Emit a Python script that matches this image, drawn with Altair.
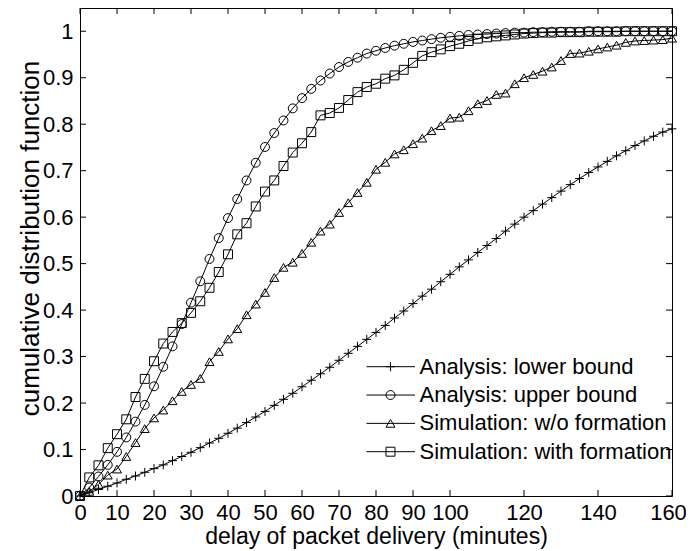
import altair as alt
import pandas as pd

# ---------------- data ----------------
X = [i * 2.5 for i in range(65)]  # 0, 2.5, ..., 160 minutes

SERIES = [
    "Analysis: lower bound",
    "Analysis: upper bound",
    "Simulation: w/o formation",
    "Simulation: with formation",
]

lower = [0, 0.007, 0.014, 0.021, 0.028, 0.036, 0.043, 0.051, 0.059, 0.067,
         0.076, 0.085, 0.094, 0.104, 0.114, 0.124, 0.135, 0.146, 0.158, 0.170,
         0.182, 0.195, 0.208, 0.221, 0.235, 0.249, 0.263, 0.277, 0.292, 0.307,
         0.322, 0.337, 0.352, 0.367, 0.383, 0.398, 0.414, 0.430, 0.445, 0.461,
         0.477, 0.493, 0.508, 0.524, 0.539, 0.554, 0.570, 0.585, 0.600, 0.614,
         0.628, 0.642, 0.656, 0.670, 0.683, 0.696, 0.708, 0.720, 0.732, 0.743,
         0.754, 0.764, 0.774, 0.783, 0.790]

upper = [0, 0.018, 0.042, 0.067, 0.095, 0.126, 0.160, 0.196, 0.236, 0.278,
         0.322, 0.370, 0.416, 0.462, 0.510, 0.555, 0.598, 0.639, 0.679, 0.717,
         0.751, 0.781, 0.808, 0.834, 0.856, 0.876, 0.894, 0.909, 0.923, 0.934,
         0.943, 0.952, 0.958, 0.964, 0.969, 0.973, 0.977, 0.980, 0.983, 0.986,
         0.988, 0.990, 0.992, 0.993, 0.994, 0.995, 0.996, 0.997, 0.997, 0.998,
         0.998, 0.999, 0.999, 0.999, 0.999, 1.0, 1.0, 1.0, 1.0, 1.0,
         1.0, 1.0, 1.0, 1.0, 1.0]

sim_wo = [0, 0.010, 0.025, 0.045, 0.058, 0.085, 0.115, 0.145, 0.168, 0.185,
          0.205, 0.225, 0.240, 0.253, 0.289, 0.311, 0.338, 0.360, 0.390, 0.413,
          0.438, 0.470, 0.492, 0.503, 0.522, 0.546, 0.570, 0.585, 0.610, 0.631,
          0.653, 0.675, 0.703, 0.718, 0.736, 0.745, 0.758, 0.770, 0.786, 0.797,
          0.813, 0.815, 0.829, 0.844, 0.851, 0.864, 0.867, 0.887, 0.900, 0.907,
          0.914, 0.923, 0.937, 0.952, 0.953, 0.957, 0.962, 0.966, 0.970, 0.976,
          0.979, 0.980, 0.981, 0.982, 0.985]

sim_with = [0, 0.040, 0.066, 0.103, 0.133, 0.165, 0.213, 0.252, 0.290, 0.328,
            0.353, 0.372, 0.394, 0.419, 0.448, 0.482, 0.520, 0.563, 0.587, 0.623,
            0.655, 0.679, 0.710, 0.739, 0.759, 0.783, 0.819, 0.824, 0.835, 0.852,
            0.869, 0.880, 0.887, 0.898, 0.905, 0.917, 0.932, 0.947, 0.955, 0.961,
            0.968, 0.973, 0.979, 0.984, 0.987, 0.989, 0.991, 0.993, 0.995, 0.996,
            0.997, 0.997, 0.998, 0.998, 0.998, 0.999, 0.999, 0.999, 0.999, 1.0,
            1.0, 1.0, 1.0, 1.0, 1.0]

X_TICKS = [0, 10, 20, 30, 40, 50, 60, 70, 80, 90, 100, 120, 140, 160]
Y_TICKS = [0, 0.1, 0.2, 0.3, 0.4, 0.5, 0.6, 0.7, 0.8, 0.9, 1.0]

PLUS = "M-1,0H1M0,-1V1"
SHAPES = [PLUS, "circle", "triangle-up", "square"]

# ---------------- tables ----------------
rows = []
for name, vals in zip(SERIES, [lower, upper, sim_wo, sim_with]):
    for x, y in zip(X, vals):
        rows.append({"series": name, "x": x, "y": y})
df = pd.DataFrame(rows)

xt_df = pd.DataFrame({"t": X_TICKS})
yt_df = pd.DataFrame({"t": Y_TICKS})
leg_df = pd.DataFrame({"series": SERIES, "row": list(range(len(SERIES)))})

FONT = "Liberation Sans"
W, H = 592, 488
MSIZE = 80

xs = alt.Scale(domain=[0, 160], nice=False, zero=False)
ys = alt.Scale(domain=[0, 1.05], nice=False, zero=False)
shape_scale = alt.Scale(domain=SERIES, range=SHAPES)

x_axis = alt.Axis(values=X_TICKS, title="delay of packet delivery (minutes)",
                  labelPadding=6, titleY=47, titleBaseline="alphabetic",
                  titleFontSize=23, labelFontSize=22, labelFlush=False,
                  labelOverlap=False,
                  labelOffset={"condition": {"test": "datum.value == 160", "value": -4},
                               "value": 0})
y_axis = alt.Axis(values=Y_TICKS, format=".1~f",
                  title="cumulative distribution function",
                  labelPadding=7, labelFontSize=22, labelOverlap=False,
                  titleAngle=270, titleX=-42, titleY=230, titleAlign="center",
                  titleBaseline="alphabetic", titleFontSize=26)

X_ENC = alt.X("x:Q", scale=xs, axis=x_axis)
Y_ENC = alt.Y("y:Q", scale=ys, axis=y_axis)

lines = alt.Chart(df).mark_line(color="black", strokeWidth=1).encode(
    x=X_ENC, y=Y_ENC, detail="series:N"
)

points = alt.Chart(df).mark_point(
    filled=False, color="black", strokeWidth=1, opacity=1, size=MSIZE
).encode(
    x=X_ENC, y=Y_ENC,
    shape=alt.Shape("series:N", scale=shape_scale, legend=None),
)

tick_len = 6
xt_bottom = alt.Chart(xt_df).mark_rule(color="black", strokeWidth=1).encode(
    x=alt.X("t:Q", scale=xs, axis=x_axis), y=alt.value(H), y2=alt.value(H - tick_len)
)
xt_top = alt.Chart(xt_df).mark_rule(color="black", strokeWidth=1).encode(
    x=alt.X("t:Q", scale=xs, axis=x_axis), y=alt.value(0), y2=alt.value(tick_len)
)
yt_left = alt.Chart(yt_df).mark_rule(color="black", strokeWidth=1).encode(
    y=alt.Y("t:Q", scale=ys, axis=y_axis), x=alt.value(0), x2=alt.value(tick_len)
)
yt_right = alt.Chart(yt_df).mark_rule(color="black", strokeWidth=1).encode(
    y=alt.Y("t:Q", scale=ys, axis=y_axis), x=alt.value(W), x2=alt.value(W - tick_len)
)

main = alt.layer(lines, points, xt_bottom, xt_top, yt_left, yt_right)

# ---------------- legend ----------------
leg_y = alt.Y("row:Q", scale=alt.Scale(domain=[0, 3], range=[358.7, 443.7]), axis=None)
leg_lines = alt.Chart(leg_df).mark_rule(color="black", strokeWidth=1).encode(
    y=leg_y, x=alt.value(286.5), x2=alt.value(335)
)
leg_pts = alt.Chart(leg_df).mark_point(
    filled=False, color="black", strokeWidth=1, opacity=1, size=MSIZE
).encode(
    y=leg_y, x=alt.value(310.5),
    shape=alt.Shape("series:N", scale=shape_scale, legend=None),
)
leg_text = alt.Chart(leg_df).mark_text(
    align="left", baseline="middle", font=FONT, fontSize=22, color="black"
).encode(y=leg_y, x=alt.value(339.5), text="series:N")

legend = alt.layer(leg_lines, leg_pts, leg_text)

chart = alt.layer(main, legend).resolve_scale(y="independent").properties(
    width=W, height=H,
    padding={"left": 72, "top": 0, "right": 14, "bottom": 55},
    autosize=alt.AutoSizeParams(type="none"),
    background="white",
).configure_view(
    stroke="black", strokeWidth=1
).configure_axis(
    grid=False, domain=False, ticks=False, tickSize=0,
    labelFont=FONT, titleFont=FONT, labelColor="black", titleColor="black",
    titleFontWeight="normal",
)

chart.save("out.html", embed_options={"renderer": "svg", "actions": False})
